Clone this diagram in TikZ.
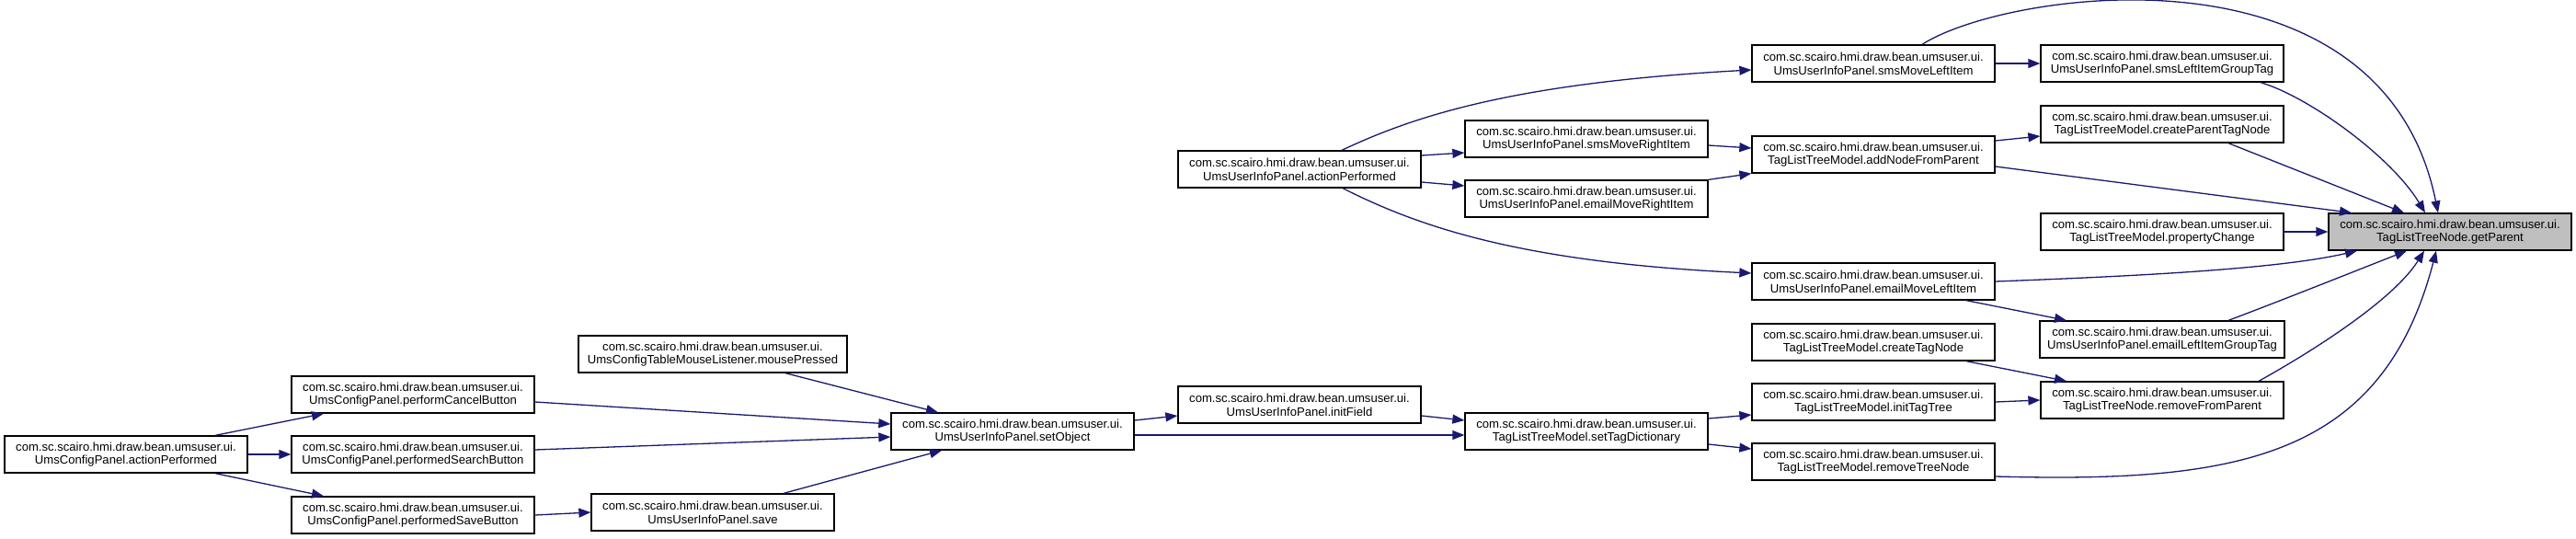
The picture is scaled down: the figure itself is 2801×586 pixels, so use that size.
\documentclass[tikz,border=0pt]{standalone}
\usepackage{fontspec}
\setmainfont{Liberation Sans}
\usetikzlibrary{arrows.meta}
\definecolor{edgeblue}{HTML}{191970}
\definecolor{hlgray}{HTML}{BFBFBF}
\begin{document}
\begin{tikzpicture}[x=1pt,y=-1pt,
  fn/.style={draw=black, line width=1.3pt, rectangle, minimum width=264pt, minimum height=40pt,
    inner sep=0pt, align=center, font=\fontsize{13.1pt}{14.7pt}\selectfont, fill=white},
  hl/.style={fn, fill=hlgray},
  call/.style={draw=edgeblue, line width=1.3pt, -{Triangle[length=13pt,width=10pt]}}]
\useasboundingbox (0,0) rectangle (2801,586);
\def\pk{com.sc.scairo.hmi.draw.bean.umsuser.ui.\\}
% nodes
\node[fn] (cpap) at (137,494) {\pk UmsConfigPanel.actionPerformed};
\node[fn] (cancel) at (449,429) {\pk UmsConfigPanel.performCancelButton};
\node[fn] (search) at (449,494) {\pk UmsConfigPanel.performedSearchButton};
\node[fn] (savebtn) at (449,560) {\pk UmsConfigPanel.performedSaveButton};
\node[fn, minimum width=292pt] (mouse) at (775,385) {\pk UmsConfigTableMouseListener.mousePressed};
\node[fn] (save) at (775,557) {\pk UmsUserInfoPanel.save};
\node[fn] (setobj) at (1101,469) {\pk UmsUserInfoPanel.setObject};
\node[fn] (initf) at (1413,440) {\pk UmsUserInfoPanel.initField};
\node[fn] (uiap) at (1413,184) {\pk UmsUserInfoPanel.actionPerformed};
\node[fn] (smsR) at (1725,151) {\pk UmsUserInfoPanel.smsMoveRightItem};
\node[fn] (emailR) at (1725,216) {\pk UmsUserInfoPanel.emailMoveRightItem};
\node[fn] (settd) at (1725,469) {\pk TagListTreeModel.setTagDictionary};
\node[fn] (smsL) at (2037,69) {\pk UmsUserInfoPanel.smsMoveLeftItem};
\node[fn] (addN) at (2037,168) {\pk TagListTreeModel.addNodeFromParent};
\node[fn] (emailL) at (2037,306) {\pk UmsUserInfoPanel.emailMoveLeftItem};
\node[fn] (createTN) at (2037,372) {\pk TagListTreeModel.createTagNode};
\node[fn] (initTT) at (2037,437) {\pk TagListTreeModel.initTagTree};
\node[fn] (removeTN) at (2037,502) {\pk TagListTreeModel.removeTreeNode};
\node[fn] (smsLG) at (2351,69) {\pk UmsUserInfoPanel.smsLeftItemGroupTag};
\node[fn] (createPTN) at (2351,135) {\pk TagListTreeModel.createParentTagNode};
\node[fn] (propCh) at (2351,252) {\pk TagListTreeModel.propertyChange};
\node[fn, minimum width=266pt] (emailLG) at (2351,369) {\pk UmsUserInfoPanel.emailLeftItemGroupTag};
\node[fn] (removeFP) at (2351,435) {\pk TagListTreeNode.removeFromParent};
\node[hl] (getP) at (2664,252) {\pk TagListTreeNode.getParent};
% edges
\draw[call] ([xshift=97pt]cpap.north) -- ([xshift=-97pt]cancel.south);
\draw[call] (cpap.east) -- (search.west);
\draw[call] ([xshift=97pt]cpap.south) -- ([xshift=-97pt]savebtn.north);
\draw[call] ([yshift=-8pt]cancel.east) -- ([yshift=8pt]setobj.west);
\draw[call] ([yshift=5pt]search.east) -- ([yshift=-6pt]setobj.west);
\draw[call] (savebtn.east) -- (save.west);
\draw[call] ([xshift=77pt]save.north) -- ([xshift=-77pt]setobj.south);
\draw[call] ([xshift=79pt]mouse.south) -- ([xshift=-81pt]setobj.north);
\draw[call] ([yshift=12pt]setobj.east) -- ([yshift=-12pt]initf.west);
\draw[call] ([yshift=-4pt]setobj.east) -- ([yshift=-4pt]settd.west);
\draw[call] ([yshift=-12pt]initf.east) -- ([yshift=12pt]settd.west);
\draw[call] ([yshift=14pt]settd.east) -- ([yshift=-14pt]initTT.west);
\draw[call] ([yshift=-14pt]settd.east) -- ([yshift=14pt]removeTN.west);
\draw[call] (initTT.east) -- (removeFP.west);
\draw[call] ([xshift=101pt]createTN.south) -- ([xshift=-104pt]removeFP.north);
\draw[call] ([xshift=105pt]removeFP.north) .. controls (2500,390) and (2600,330) .. ([xshift=-28pt]getP.south);
\draw[call] ([yshift=-16pt]removeTN.east) .. controls (2430,525) and (2590,500) .. ([xshift=-15pt]getP.south);
\draw[call] ([xshift=72pt]emailLG.north) .. controls (2485,325) and (2560,295) .. ([xshift=-47pt]getP.south);
\draw[call] ([xshift=101pt]emailL.south) -- ([xshift=-104pt]emailLG.north);
\draw[call] (emailL.east) .. controls (2330,300) and (2480,292) .. ([xshift=-101pt]getP.south);
\draw[call] (propCh.east) -- (getP.west);
\draw[call] ([yshift=-13pt]addN.east) -- ([xshift=-107pt]getP.north);
\draw[call] ([yshift=15pt]addN.east) -- ([yshift=-13pt]createPTN.west);
\draw[call] ([xshift=72pt]createPTN.south) -- ([xshift=-50pt]getP.north);
\draw[call] ([xshift=107pt]smsLG.south) .. controls (2510,105) and (2600,170) .. ([xshift=-27pt]getP.north);
\draw[call] (smsL.east) -- (smsLG.west);
\draw[call] ([xshift=53pt]smsL.north) .. controls (2180,-10) and (2590,-70) .. ([xshift=-13pt]getP.north);
\draw[call] ([xshift=46pt]uiap.north) .. controls (1540,125) and (1650,90) .. ([yshift=-7pt]smsL.west);
\draw[call] ([yshift=15pt]uiap.east) -- ([yshift=-15pt]smsR.west);
\draw[call] ([yshift=-14pt]uiap.east) -- ([yshift=14pt]emailR.west);
\draw[call] ([xshift=47pt]uiap.south) .. controls (1540,245) and (1650,285) .. ([yshift=9pt]emailL.west);
\draw[call] ([yshift=-7pt]smsR.east) -- ([yshift=7pt]addN.west);
\draw[call] (emailR.north east) -- (addN.south west);
\end{tikzpicture}
\end{document}
